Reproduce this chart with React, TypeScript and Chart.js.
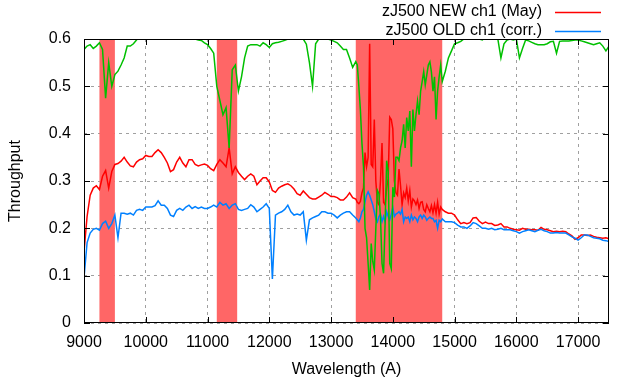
import { useEffect, useRef } from 'react';
import { Chart, registerables } from 'chart.js';

Chart.register(...registerables);

// Wavelength grid (Angstrom)
const WAVELENGTH = [
  9000, 9050, 9100, 9150, 9200, 9250, 9300, 9350, 9400, 9450,
  9500, 9550, 9600, 9650, 9700, 9750, 9800, 9850, 9900, 9950,
  10000, 10050, 10100, 10150, 10200, 10250, 10300, 10350, 10400, 10450,
  10500, 10550, 10600, 10650, 10700, 10750, 10800, 10850, 10900, 10950,
  11000, 11050, 11100, 11150, 11200, 11250, 11300, 11350, 11400, 11450,
  11500, 11550, 11600, 11650, 11700, 11750, 11800, 11850, 11900, 11950,
  12000, 12050, 12100, 12150, 12200, 12250, 12300, 12350, 12400, 12450,
  12500, 12550, 12600, 12650, 12700, 12750, 12800, 12850, 12900, 12950,
  13000, 13050, 13100, 13150, 13200, 13250, 13300, 13350, 13400,
  13425, 13450, 13475, 13500, 13525, 13550, 13575, 13600,
  13625, 13650, 13675, 13700, 13725, 13750, 13775, 13800,
  13825, 13850, 13875, 13900, 13925, 13950, 13975, 14000,
  14025, 14050, 14075, 14100, 14125, 14150, 14175, 14200,
  14225, 14250, 14275, 14300, 14325, 14350, 14375, 14400,
  14425, 14450, 14475, 14500, 14525, 14550, 14575, 14600,
  14625, 14650, 14675, 14700, 14725, 14750, 14775, 14800,
  14850, 14900, 14950, 15000, 15050, 15100, 15150, 15200, 15250, 15300,
  15350, 15400, 15450, 15500, 15550, 15600, 15650, 15700, 15750, 15800,
  15850, 15900, 15950, 16000, 16050, 16100, 16150, 16200, 16250, 16300,
  16350, 16400, 16450, 16500, 16550, 16600, 16650, 16700, 16750, 16800,
  16850, 16900, 16950, 17000, 17050, 17100, 17150, 17200, 17250, 17300,
  17350, 17400, 17450, 17500,
];

// zJ500 NEW ch1 (May)
const NEW_CH1 = [
  0.15, 0.225, 0.27, 0.285, 0.29, 0.282, 0.31, 0.322, 0.285, 0.32,
  0.335, 0.337, 0.342, 0.35, 0.34, 0.332, 0.33, 0.34, 0.345, 0.347,
  0.354, 0.352, 0.352, 0.36, 0.366, 0.36, 0.35, 0.338, 0.32, 0.324,
  0.34, 0.35, 0.338, 0.33, 0.345, 0.345, 0.335, 0.332, 0.334, 0.336,
  0.333, 0.326, 0.322, 0.335, 0.345, 0.338, 0.33, 0.37, 0.315, 0.33,
  0.318, 0.31, 0.303, 0.31, 0.315, 0.31, 0.292, 0.3, 0.307, 0.307,
  0.298, 0.28, 0.276, 0.285, 0.289, 0.292, 0.294, 0.29, 0.283, 0.273,
  0.27, 0.279, 0.272, 0.265, 0.262, 0.262, 0.266, 0.27, 0.276, 0.272,
  0.267, 0.267, 0.265, 0.26, 0.26, 0.266, 0.275, 0.265, 0.262,
  0.255, 0.252, 0.257, 0.275, 0.285, 0.36, 0.33, 0.35,
  0.59, 0.335, 0.33, 0.43, 0.3, 0.255, 0.25, 0.3,
  0.38, 0.255, 0.25, 0.285, 0.305, 0.435, 0.43, 0.41,
  0.3, 0.275, 0.27, 0.325, 0.29, 0.25, 0.275, 0.265,
  0.285, 0.258, 0.28, 0.245, 0.262, 0.258, 0.25, 0.26,
  0.242, 0.255, 0.256, 0.24, 0.235, 0.25, 0.242, 0.235,
  0.248, 0.233, 0.25, 0.232, 0.255, 0.23, 0.245, 0.24,
  0.235, 0.232, 0.232, 0.228, 0.218, 0.21, 0.212, 0.21, 0.212, 0.222,
  0.223, 0.215, 0.21, 0.213, 0.21, 0.21, 0.206, 0.207, 0.21, 0.203,
  0.203, 0.2, 0.198, 0.197, 0.196, 0.2, 0.198, 0.198, 0.197, 0.197,
  0.196, 0.202, 0.198, 0.197, 0.195, 0.193, 0.194, 0.193, 0.194, 0.193,
  0.188, 0.184, 0.177, 0.18, 0.186, 0.186, 0.185, 0.186, 0.183, 0.181,
  0.18, 0.179, 0.18, 0.178,
];

// zJ500 OLD ch1 (corr.)
const OLD_CH1 = [
  0.095, 0.17, 0.19, 0.198, 0.2, 0.196, 0.21, 0.215, 0.2, 0.21,
  0.228, 0.18, 0.232, 0.232, 0.23, 0.232, 0.228, 0.238, 0.24, 0.238,
  0.245, 0.245, 0.245, 0.248, 0.258, 0.249, 0.249, 0.242, 0.228, 0.225,
  0.238, 0.242, 0.238, 0.245, 0.249, 0.242, 0.246, 0.242, 0.245, 0.242,
  0.242, 0.245, 0.249, 0.245, 0.255, 0.249, 0.252, 0.242, 0.249, 0.252,
  0.24, 0.238, 0.24, 0.242, 0.25, 0.245, 0.235, 0.24, 0.245, 0.252,
  0.242, 0.093, 0.228, 0.232, 0.235, 0.24, 0.249, 0.235, 0.228, 0.23,
  0.228, 0.235, 0.175, 0.218, 0.222, 0.225, 0.228, 0.235, 0.235, 0.232,
  0.232, 0.228, 0.222, 0.228, 0.232, 0.235, 0.235, 0.228, 0.222,
  0.218, 0.214, 0.222, 0.235, 0.24, 0.256, 0.27, 0.277,
  0.27, 0.26, 0.25, 0.235, 0.22, 0.214, 0.225, 0.23,
  0.214, 0.225, 0.214, 0.235, 0.225, 0.218, 0.23, 0.244,
  0.225, 0.23, 0.232, 0.235, 0.23, 0.24, 0.214, 0.224,
  0.221, 0.224, 0.214, 0.228, 0.218, 0.224, 0.221, 0.214,
  0.224, 0.228, 0.221, 0.228, 0.224, 0.217, 0.221, 0.224,
  0.221, 0.221, 0.214, 0.217, 0.2, 0.217, 0.214, 0.22,
  0.214, 0.214, 0.214, 0.212, 0.207, 0.203, 0.203, 0.2, 0.205, 0.212,
  0.21, 0.205, 0.2, 0.2, 0.198, 0.2, 0.197, 0.198, 0.2, 0.197,
  0.197, 0.197, 0.195, 0.193, 0.19, 0.193, 0.195, 0.197, 0.195, 0.193,
  0.196, 0.198, 0.195, 0.193, 0.19, 0.19, 0.191, 0.19, 0.19, 0.19,
  0.186, 0.182, 0.179, 0.175, 0.18, 0.186, 0.186, 0.183, 0.18, 0.179,
  0.178, 0.175, 0.174, 0.172,
];

// Atmospheric transmission reference curve (no legend entry)
const ATMOSPHERE = [
  0.578, 0.585, 0.588, 0.58, 0.585, 0.592, 0.578, 0.475, 0.55, 0.5,
  0.525, 0.532, 0.545, 0.56, 0.585, 0.585, 0.59, 0.598, 0.605, 0.615,
  0.62, 0.625, 0.63, 0.63, 0.635, 0.64, 0.64, 0.635, 0.63, 0.63,
  0.625, 0.62, 0.615, 0.61, 0.605, 0.6, 0.6, 0.598, 0.597, 0.592,
  0.588, 0.58, 0.57, 0.5, 0.47, 0.44, 0.455, 0.37, 0.535, 0.545,
  0.49, 0.52, 0.56, 0.585, 0.588, 0.588, 0.588, 0.585, 0.592, 0.588,
  0.582, 0.59, 0.592, 0.593, 0.595, 0.597, 0.6, 0.605, 0.61, 0.605,
  0.6, 0.6, 0.589, 0.55, 0.5, 0.59, 0.6, 0.605, 0.605, 0.6,
  0.598, 0.595, 0.592, 0.585, 0.578, 0.578, 0.56, 0.54, 0.552,
  0.545, 0.5, 0.45, 0.38, 0.33, 0.2, 0.18, 0.126,
  0.07, 0.168, 0.13, 0.112, 0.2, 0.28, 0.273, 0.224,
  0.126, 0.105, 0.21, 0.343, 0.32, 0.126, 0.115, 0.287,
  0.266, 0.35, 0.35, 0.343, 0.37, 0.385, 0.42, 0.37,
  0.434, 0.406, 0.448, 0.33, 0.451, 0.406, 0.44, 0.469,
  0.44, 0.49, 0.51, 0.531, 0.503, 0.524, 0.545, 0.552,
  0.53, 0.49, 0.52, 0.43, 0.49, 0.52, 0.545, 0.51,
  0.532, 0.56, 0.575, 0.59, 0.592, 0.595, 0.6, 0.6, 0.6, 0.6,
  0.6, 0.6, 0.598, 0.605, 0.61, 0.61, 0.605, 0.6, 0.56, 0.59,
  0.598, 0.6, 0.598, 0.6, 0.56, 0.58, 0.598, 0.596, 0.593, 0.59,
  0.588, 0.588, 0.588, 0.59, 0.594, 0.595, 0.57, 0.595, 0.596, 0.596,
  0.596, 0.597, 0.598, 0.598, 0.596, 0.594, 0.592, 0.59, 0.588, 0.59,
  0.592, 0.585, 0.575, 0.585,
];

// Shaded wavelength bands [start, end]
const BAND_START = [9250, 11150, 13400];
const BAND_END = [9500, 11480, 14800];

const X_TICKS = [9000, 10000, 11000, 12000, 13000, 14000, 15000, 16000, 17000];
const Y_TICKS = [0, 0.1, 0.2, 0.3, 0.4, 0.5, 0.6];
const Y_TICK_LABELS = ['0', '0.1', '0.2', '0.3', '0.4', '0.5', '0.6'];

const SERIES_NAMES = ['zJ500 NEW ch1 (May)', 'zJ500 OLD ch1 (corr.)'];
const X_TITLE = 'Wavelength (A)';
const Y_TITLE = 'Throughput';

const RED = '#ff0000';
const BLUE = '#0080ff';
const GREEN = '#00c000';
const BAND = '#ff6666';
const FONT = '"Liberation Sans", Arial, sans-serif';

export default function App() {
  const ref = useRef<HTMLCanvasElement>(null);

  useEffect(() => {
    document.body.style.margin = '0';
    const canvas = ref.current;
    if (!canvas) return;

    const pts = (ys: number[]) => WAVELENGTH.map((x, i) => ({ x, y: ys[i] }));

    const bandPlugin = {
      id: 'bands',
      beforeDatasetsDraw(chart: any) {
        const { ctx, chartArea, scales } = chart;
        const xs = scales.x;
        ctx.save();
        ctx.fillStyle = BAND;
        BAND_START.forEach((a, i) => {
          const x0 = xs.getPixelForValue(a);
          const x1 = xs.getPixelForValue(BAND_END[i]);
          ctx.fillRect(x0, chartArea.top, x1 - x0, chartArea.bottom - chartArea.top);
        });
        ctx.restore();
      },
    };

    const framePlugin = {
      id: 'frame',
      afterDatasetsDraw(chart: any) {
        const { ctx, chartArea, scales } = chart;
        const { left, right, top, bottom } = chartArea;
        const xs = scales.x;
        const ys = scales.y;
        ctx.save();
        ctx.strokeStyle = '#000';
        ctx.lineWidth = 1;
        ctx.beginPath();
        const tl = 6;
        X_TICKS.forEach((v) => {
          const px = Math.round(xs.getPixelForValue(v)) + 0.5;
          ctx.moveTo(px, bottom);
          ctx.lineTo(px, bottom - tl);
          ctx.moveTo(px, top);
          ctx.lineTo(px, top + tl);
        });
        Y_TICKS.forEach((v) => {
          const py = Math.round(ys.getPixelForValue(v)) + 0.5;
          ctx.moveTo(left, py);
          ctx.lineTo(left + tl, py);
          ctx.moveTo(right, py);
          ctx.lineTo(right - tl, py);
        });
        ctx.stroke();
        ctx.strokeRect(Math.round(left) + 0.5, Math.round(top) + 0.5,
          Math.round(right - left) - 1, Math.round(bottom - top) - 1);
        ctx.restore();
      },
      afterDraw(chart: any) {
        const { ctx } = chart;
        ctx.save();
        ctx.font = `16px ${FONT}`;
        ctx.fillStyle = '#000';
        ctx.textAlign = 'right';
        ctx.textBaseline = 'middle';
        const colors = [RED, BLUE];
        SERIES_NAMES.forEach((name, i) => {
          const y = 12 + i * 19;
          ctx.fillText(name, 542, y);
          ctx.strokeStyle = colors[i];
          ctx.lineWidth = 1.5;
          ctx.beginPath();
          ctx.moveTo(555, y + 0.5);
          ctx.lineTo(601, y + 0.5);
          ctx.stroke();
        });
        ctx.restore();
      },
    };

    const chart = new Chart(canvas, {
      type: 'line',
      data: {
        datasets: [
          {
            label: SERIES_NAMES[0],
            data: pts(NEW_CH1),
            borderColor: RED,
            borderWidth: 1.5,
            pointRadius: 0,
            tension: 0,
            order: 3,
          },
          {
            label: SERIES_NAMES[1],
            data: pts(OLD_CH1),
            borderColor: BLUE,
            borderWidth: 1.5,
            pointRadius: 0,
            tension: 0,
            order: 2,
          },
          {
            label: 'atmosphere',
            data: pts(ATMOSPHERE),
            borderColor: GREEN,
            borderWidth: 1.5,
            pointRadius: 0,
            tension: 0,
            order: 1,
          },
        ],
      },
      options: {
        responsive: false,
        animation: false,
        events: [],
        layout: { padding: { top: 39, right: 31, left: 0, bottom: 0 } },
        plugins: { legend: { display: false }, tooltip: { enabled: false } },
        scales: {
          x: {
            type: 'linear',
            min: 9000,
            max: 17500,
            afterBuildTicks: (s: any) => {
              s.ticks = X_TICKS.map((value) => ({ value }));
            },
            ticks: {
              color: '#000',
              padding: 10,
              maxRotation: 0,
              minRotation: 0,
              autoSkip: false,
              font: { family: FONT, size: 16 },
              callback: (v: any) => String(v),
            },
            grid: { color: '#a0a0a0', drawTicks: false, lineWidth: 1 },
            border: { display: false, dash: [3, 4] },
            title: {
              display: true,
              text: X_TITLE,
              color: '#000',
              font: { family: FONT, size: 16 },
              padding: { top: 0, bottom: 5 },
            },
            afterFit: (s: any) => { s.height = 61; },
          },
          y: {
            type: 'linear',
            min: 0,
            max: 0.6,
            afterBuildTicks: (s: any) => {
              s.ticks = Y_TICKS.map((value) => ({ value }));
            },
            ticks: {
              color: '#000',
              padding: 13,
              autoSkip: false,
              font: { family: FONT, size: 16 },
              callback: (_v: any, i: number) => Y_TICK_LABELS[i],
            },
            grid: { color: '#a0a0a0', drawTicks: false, lineWidth: 1 },
            border: { display: false, dash: [3, 4] },
            title: {
              display: true,
              text: Y_TITLE,
              color: '#000',
              font: { family: FONT, size: 16 },
              padding: { top: 6, bottom: 0 },
            },
            afterFit: (s: any) => { s.width = 84; },
          },
        },
      },
      plugins: [bandPlugin, framePlugin],
    });

    return () => chart.destroy();
  }, []);

  return (
    <div style={{ width: 640, height: 384 }}>
      <canvas ref={ref} width={640} height={384} style={{ display: 'block' }} />
    </div>
  );
}
